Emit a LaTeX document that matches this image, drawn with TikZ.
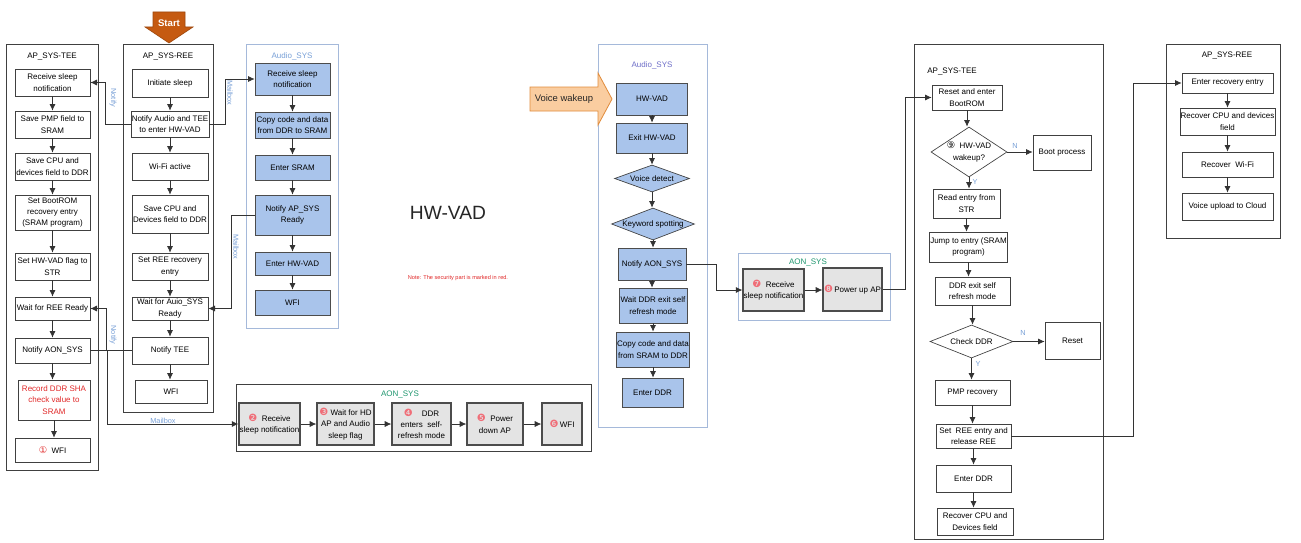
\documentclass[tikz,border=0pt]{standalone}
\usepackage{fontspec}
\setmainfont{Liberation Sans}
\newfontfamily\symf{DejaVu Sans}
\usetikzlibrary{arrows.meta,shapes.geometric,positioning,calc}

\definecolor{audioblue}{RGB}{169,196,235}
\definecolor{grpblue}{RGB}{165,185,218}
\definecolor{lblblue}{RGB}{120,160,215}
\definecolor{aongreen}{RGB}{30,150,110}
\definecolor{aongray}{RGB}{228,228,228}
\definecolor{startorange}{RGB}{197,90,17}
\definecolor{peach}{RGB}{250,205,160}
\definecolor{peachline}{RGB}{225,140,60}
\definecolor{notered}{RGB}{225,40,40}
\definecolor{audiopurple}{RGB}{110,110,200}
\definecolor{numpink}{RGB}{240,110,120}

\newcommand{\boxfont}{\fontsize{6}{8.5}\selectfont}
\newcommand{\cnum}[1]{{\symf\fontsize{7.5}{8}\selectfont\textcolor{numpink}{#1}}}

\tikzset{
  blk/.style={draw=black!75, fill=white, align=center, font=\boxfont, inner sep=0.5pt, line width=0.5pt},
  ablk/.style={blk, fill=audioblue, draw=black!70},
  gblk/.style={blk, fill=aongray, draw=black!70, line width=0.9pt},
  dia/.style={diamond, draw=black!75, align=center, font=\boxfont, inner sep=0pt, line width=0.5pt},
  conn/.style={draw=black!80, line width=0.6pt, -{Latex[length=5pt,width=4.6pt]}},
  grp/.style={draw=black!75, line width=0.5pt},
  ttl/.style={font=\boxfont},
  lbl/.style={font=\fontsize{5.5}{6}\selectfont, text=lblblue},
}

\begin{document}
\begin{tikzpicture}[x=0.75pt, y=-0.75pt]
  \fill[white] (0,0) rectangle (1301,542);
  \useasboundingbox (0,0) rectangle (1301,542);

  % groups
  \draw[grp] (6,44) rectangle (98,470);
  \draw[grp] (123,44) rectangle (213,412);
  \draw[grp, draw=grpblue] (246,44) rectangle (338,328);
  \draw[grp] (236,384) rectangle (591,451);
  \draw[grp, draw=grpblue] (598,44) rectangle (707,427);
  \draw[grp, draw=grpblue] (738,253) rectangle (890,320);
  \draw[grp] (914,44) rectangle (1103,539);
  \draw[grp] (1166,44) rectangle (1280,238);

  \node[ttl] (ttlteeL) at (52,57) {AP\_SYS-TEE};
  \node[ttl] (ttlreeL) at (168,57) {AP\_SYS-REE};
  \node[ttl, text=lblblue] (ttlaudL) at (292,56) {Audio\_SYS};
  \node[ttl, text=aongreen] (ttlaonB) at (400,394) {AON\_SYS};
  \node[ttl, text=audiopurple] (ttlaudR) at (652,65) {Audio\_SYS};
  \node[ttl, text=aongreen] (ttlaonR) at (808,262) {AON\_SYS};
  \node[ttl] (ttlteeR) at (952,72) {AP\_SYS-TEE};
  \node[ttl] (ttlreeR) at (1227,56) {AP\_SYS-REE};

  % AP_SYS-TEE (sleep)
  \foreach \n/\y/\h/\txt in {t1/82.5/27/{Receive sleep\\notification},
      t2/124.5/27/{Save PMP field to\\SRAM},
      t3/166.5/27/{Save CPU and\\devices field to DDR},
      t4/212.5/35/{Set BootROM\\recovery entry\\(SRAM program)},
      t5/266.5/27/{Set HW-VAD flag to\\STR},
      t6/308.5/23/{Wait for REE Ready},
      t7/350.5/25/{Notify AON\_SYS}} {
    \node[blk, minimum width=56.25pt, minimum height=\h*0.75pt] (\n) at (52.5,\y) {\txt};
  }
  \node[blk, text=notered, minimum width=54pt, minimum height=30pt] (t8) at (54,400) {Record DDR SHA\\check value to\\SRAM};
  \node[blk, minimum width=56.25pt, minimum height=18pt] (t9) at (52.5,450) {{\symf\fontsize{7}{8}\selectfont\textcolor{notered}{①}}\ \ WFI};

  % AP_SYS-REE (sleep)
  \foreach \n/\y/\h/\txt in {r1/83/28/{Initiate sleep},
      r2/124/26/{Notify Audio and TEE\\to enter HW-VAD},
      r3/166.5/27/{Wi-Fi active},
      r4/214/38/{Save CPU and\\Devices field to DDR},
      r5/266.5/27/{Set REE recovery\\entry},
      r6/308.5/23/{Wait for Auio\_SYS\\Ready},
      r7/350.5/27/{Notify TEE}} {
    \node[blk, minimum width=57pt, minimum height=\h*0.75pt] (\n) at (170,\y) {\txt};
  }
  \node[blk, minimum width=54pt, minimum height=17.25pt] (r8) at (171,391.5) {WFI};

  % Audio_SYS (sleep)
  \foreach \n/\y/\h/\txt in {a1/79/32/{Receive sleep\\notification},
      a2/125/26/{Copy code and data\\from DDR to SRAM},
      a3/167.5/25/{Enter SRAM},
      a4/215/40/{Notify AP\_SYS\\Ready},
      a5/263.5/23/{Enter HW-VAD},
      a6/302.5/25/{WFI}} {
    \node[ablk, minimum width=56.25pt, minimum height=\h*0.75pt] (\n) at (292.5,\y) {\txt};
  }

  % AON_SYS (sleep)
  \foreach \n/\x/\w/\txt in {n2/269.5/57/{\cnum{❷}\ \ Receive\\sleep notification},
      n3/345.5/57/{\cnum{❸} Wait for HD\\AP and Audio\\sleep flag},
      n4/421.5/59/{\cnum{❹}\ \ \ \ DDR\\enters\ \ self-\\refresh mode},
      n5/495/56/{\cnum{❺}\ \ Power\\down AP},
      n6/562/40/{\cnum{❻}\,WFI}} {
    \node[gblk, minimum width=\w*0.75pt, minimum height=31.5pt] (\n) at (\x,424) {\txt};
  }

  % Audio_SYS (wakeup)
  \node[ablk, minimum width=53.25pt, minimum height=24pt] (v1) at (652,99) {HW-VAD};
  \node[ablk, minimum width=53.25pt, minimum height=22.5pt] (v2) at (652,138) {Exit HW-VAD};
  \node[dia, fill=audioblue, shape aspect=2.8, minimum width=56.25pt, minimum height=20.25pt] (v3) at (652,178.5) {Voice detect};
  \node[dia, fill=audioblue, shape aspect=2.6, minimum width=62.25pt, minimum height=24pt] (v4) at (653,224) {Keyword spotting};
  \node[ablk, minimum width=51pt, minimum height=24pt] (v5) at (652,264) {Notify AON\_SYS};
  \node[ablk, minimum width=51pt, minimum height=26.25pt] (v6) at (653,305.5) {Wait DDR exit self\\refresh mode};
  \node[ablk, minimum width=51pt, minimum height=26.25pt] (v7) at (653,349.5) {Copy code and data\\from SRAM to DDR};
  \node[ablk, minimum width=45.75pt, minimum height=21.75pt] (v8) at (652.5,392.5) {Enter DDR};

  % AON_SYS (wakeup)
  \node[gblk, minimum width=42.75pt, minimum height=31.5pt] (m7) at (773.5,290) {\cnum{❼}\ \ Receive\\sleep notification};
  \node[gblk, minimum width=44.25pt, minimum height=32.25pt] (m8) at (852.5,289.5) {\cnum{❽}\,Power up AP};

  % AP_SYS-TEE (wakeup)
  \node[blk, minimum width=52.5pt, minimum height=18.75pt] (e1) at (967,97.5) {Reset and enter\\BootROM};
  \node[dia, shape aspect=1.5, minimum width=57pt, minimum height=37.5pt] (e2) at (969,152) {{\symf\fontsize{7}{8}\selectfont ⑨}\ \ HW-VAD\\wakeup?};
  \node[blk, minimum width=43.5pt, minimum height=26.25pt] (boot) at (1062,152.5) {Boot process};
  \node[blk, minimum width=50.25pt, minimum height=21.75pt] (e3) at (966.5,203.5) {Read entry from\\STR};
  \node[blk, minimum width=50.25pt, minimum height=22.5pt] (e4) at (968.5,247) {Jump to entry (SRAM\\program)};
  \node[blk, minimum width=56.25pt, minimum height=21pt] (e5) at (972.5,291) {DDR exit self\\refresh mode};
  \node[dia, shape aspect=2.5, minimum width=62.25pt, minimum height=24.75pt] (e6) at (971.5,341.5) {Check DDR};
  \node[blk, minimum width=41.25pt, minimum height=27.75pt] (rst) at (1072.5,340.5) {Reset};
  \node[blk, minimum width=56.25pt, minimum height=18.75pt] (e7) at (972.5,392.5) {PMP recovery};
  \node[blk, minimum width=56.25pt, minimum height=18pt] (e8) at (973.5,436) {Set\ \ REE entry and\\release REE};
  \node[blk, minimum width=56.25pt, minimum height=20.25pt] (e9) at (973.5,478.5) {Enter DDR};
  \node[blk, minimum width=57pt, minimum height=20.25pt] (e10) at (975,521.5) {Recover CPU and\\Devices field};

  % AP_SYS-REE (wakeup)
  \foreach \n/\y/\h/\txt in {f1/83/20/{Enter recovery entry},
      f2/121.5/27/{Recover CPU and devices\\field},
      f3/164.5/25/{Recover\ \ Wi-Fi},
      f4/206.5/27/{Voice upload to Cloud}} {
    \node[blk, minimum width=68.25pt, minimum height=\h*0.75pt] (\n) at (1227.5,\y) {\txt};
  }

  % vertical flow
  \foreach \a/\b in {t1/t2,t2/t3,t3/t4,t4/t5,t5/t6,t6/t7,t7/t8,t8/t9,
      r1/r2,r2/r3,r3/r4,r4/r5,r5/r6,r6/r7,r7/r8,
      a1/a2,a2/a3,a3/a4,a4/a5,a5/a6,
      v1/v2,v2/v3,v3/v4,v4/v5,v5/v6,v6/v7,v7/v8,
      e1/e2,e2/e3,e3/e4,e4/e5,e5/e6,e6/e7,e7/e8,e8/e9,e9/e10,
      f1/f2,f2/f3,f3/f4} {
    \draw[conn] (\a.south) -- (\a.south |- \b.north);
  }
  \foreach \a/\b in {n2/n3,n3/n4,n4/n5,n5/n6,m7/m8,e2/boot,e6/rst} {
    \draw[conn] (\a.east) -- (\a.east -| \b.west);
  }

  % messages between subsystems
  \draw[conn] (r2.west) -- ++(-25,0) |- (t1.east);
  \draw[conn] (r2.east) -- ++(16,0) |- (a1.west);
  \draw[conn] (a4.west) -- ++(-23,0) |- (r6.east);
  \draw[conn] (r7.west) -- ++(-25,0) |- (t6.east);
  \draw[conn] (t7.east) -- ++(17,0) |- (n2.west);
  \draw[conn] (v5.east) -- ++(30,0) |- (m7.west);
  \draw[conn] (m8.east) -- ++(23,0) |- (e1.west);
  \draw[conn] (e8.east) -- ++(122,0) |- (f1.west);

  \node[lbl, rotate=-90] (lnotify1) at (113,98) {Notify};
  \node[lbl, rotate=-90] (lmail1) at (230,93) {Mailbox};
  \node[lbl, rotate=-90] (lmail2) at (236,247) {Mailbox};
  \node[lbl, rotate=-90] (lnotify2) at (113,335) {Notify};
  \node[lbl] (lmail3) at (163,421) {Mailbox};
  \node[lbl] (ln1) at (1015,146) {N};
  \node[lbl] (ly1) at (975,182) {Y};
  \node[lbl] (ln2) at (1023,333) {N};
  \node[lbl] (ly2) at (978,364) {Y};

  % block arrows
  \filldraw[fill=startorange, draw=startorange!80!black, line width=0.5pt]
    (153,12) -- (185,12) -- (185,27) -- (193,27) -- (169,43) -- (145,27) -- (153,27) -- cycle;
  \node[font=\fontsize{7.2}{8}\selectfont\bfseries, text=white] (start) at (169,23) {Start};
  \filldraw[fill=peach, draw=peachline, line width=0.6pt]
    (530,87) -- (598,87) -- (598,73) -- (612,99) -- (598,125) -- (598,111) -- (530,111) -- cycle;
  \node[font=\fontsize{7.1}{8}\selectfont, text=black!85] (wake) at (564,99) {Voice wakeup};

  % titles
  \node[font=\fontsize{14.4}{16}\selectfont, text=black!85] (hwvad) at (448,213) {HW-VAD};
  \node[font=\fontsize{4.2}{5}\selectfont, text=notered] (note) at (458,278) {Note: The security part is marked in red.};
\end{tikzpicture}
\end{document}
